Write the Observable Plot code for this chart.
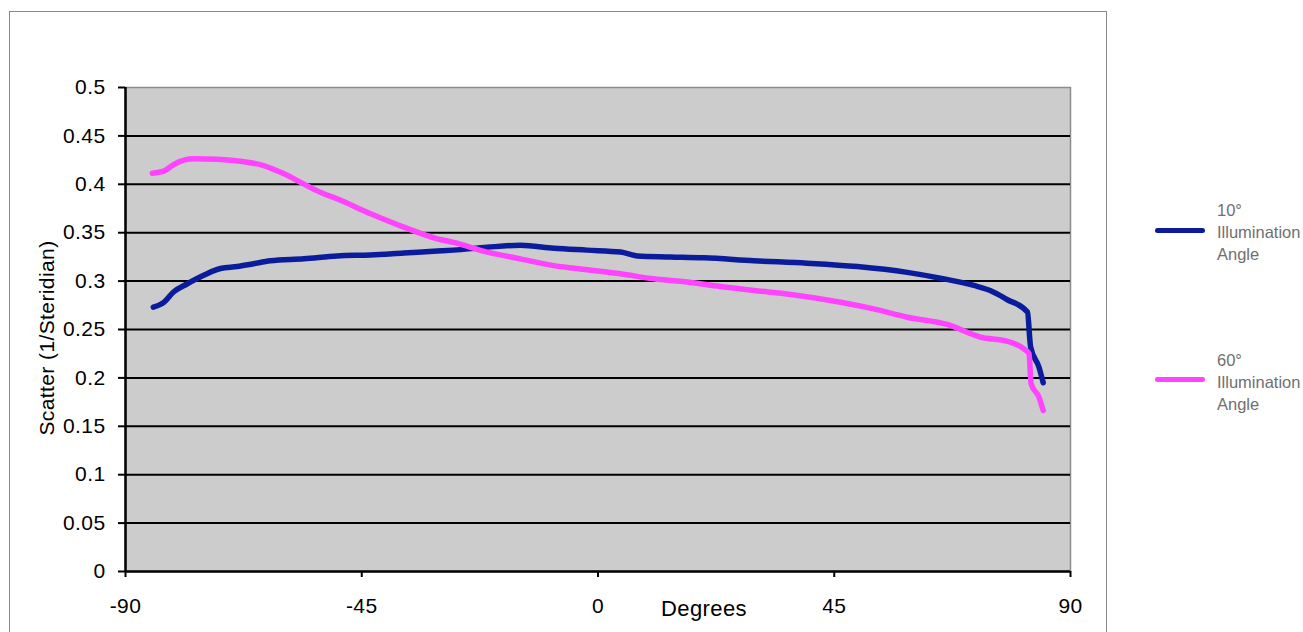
<!DOCTYPE html>
<html>
<head>
<meta charset="utf-8">
<script src="https://cdn.jsdelivr.net/npm/d3@7"></script>
<script src="https://cdn.jsdelivr.net/npm/@observablehq/plot@0.6"></script>
<style>
  html, body { margin: 0; padding: 0; background: #fff; overflow: hidden; }
  #wrap { position: relative; width: 1303px; height: 632px; }
  #border { position: absolute; left: 9px; top: 11px; width: 1098px; height: 700px; border: 1px solid #8a8a8a; box-sizing: border-box; }
  #chart { position: absolute; left: 0; top: 0; }
  .leg { position: absolute; font-family: "Liberation Sans", Arial, sans-serif; font-size: 16.5px; line-height: 22px; color: #707070; }
  .swatch { position: absolute; width: 50px; height: 5px; border-radius: 3px; }
  #ylabel { position: absolute; left: -103.5px; top: 325px; width: 300px; height: 26px; line-height: 26px; text-align: center;
            font-family: "Liberation Sans", Arial, sans-serif; font-size: 21px; letter-spacing: 0.4px; color: black;
            transform: rotate(-90deg); transform-origin: 150px 13px; white-space: nowrap; }
</style>
</head>
<body>
<div id="wrap">
  <div id="border"></div>
  <div id="chart"></div>
  <div id="ylabel"></div>
</div>
<script>
const xTicks = [-90, -45, 0, 45, 90];
const yTicks = [0, 0.05, 0.1, 0.15, 0.2, 0.25, 0.3, 0.35, 0.4, 0.45, 0.5];
const yTickLabels = ["0", "0.05", "0.1", "0.15", "0.2", "0.25", "0.3", "0.35", "0.4", "0.45", "0.5"];
const gridValues = [0.05, 0.1, 0.15, 0.2, 0.25, 0.3, 0.35, 0.4, 0.45];
const xTitle = "Degrees";
const yTitle = "Scatter (1/Steridian)";

const seriesNames = ["10°\nIllumination\nAngle", "60°\nIllumination\nAngle"];
const seriesColors = ["#0a1c9c", "#ff44ff"];

const blueDeg = [-84.7,-82.7,-80.8,-78.3,-75.1,-71.9,-68.7,-65.6,-62.4,-56,-49.7,-43.3,-37,-30.6,-27.5,-21.1,-14.8,-8.4,-2.1,4.3,7.5,13.8,20.2,29.7,39.8,49.4,58.9,65.2,71.6,74.8,77.9,81.8,82.4,84,84.8];
const blueVal = [0.273,0.278,0.289,0.297,0.306,0.313,0.315,0.318,0.321,0.323,0.326,0.327,0.329,0.331,0.332,0.335,0.337,0.334,0.332,0.330,0.326,0.325,0.324,0.321,0.3185,0.315,0.309,0.303,0.2955,0.290,0.281,0.268,0.232,0.211,0.195];

const pinkDeg = [-84.9,-82.7,-80.8,-77,-72.5,-68.1,-63.7,-59.8,-56.3,-52.9,-49.7,-43.3,-37,-30.6,-27.5,-21.1,-14.8,-8.4,-2.1,4.3,10.6,17,23.3,29.7,36.7,46.2,52.5,58.9,66.5,72.9,77.9,81.1,82.1,82.5,84,84.8];
const pinkVal = [0.4115,0.4136,0.4205,0.4263,0.426,0.4239,0.4194,0.4108,0.401,0.3918,0.385,0.3695,0.3557,0.3437,0.340,0.330,0.323,0.316,0.3117,0.3075,0.3024,0.299,0.2944,0.2903,0.2862,0.2782,0.2713,0.2627,0.2552,0.242,0.2379,0.230,0.2249,0.1939,0.180,0.1663];

const blue = blueDeg.map((d, i) => ({x: d, y: blueVal[i]}));
const pink = pinkDeg.map((d, i) => ({x: d, y: pinkVal[i]}));

const fontFamily = '"Liberation Sans", Arial, sans-serif';

const chart = Plot.plot({
  width: 1303,
  height: 632,
  marginLeft: 125,
  marginRight: 233,
  marginTop: 87,
  marginBottom: 61,
  x: {domain: [-90, 90]},
  y: {domain: [0, 0.5]},
  style: {fontFamily, fontSize: "21px", background: "transparent", color: "black", letterSpacing: "0.4px"},
  marks: [
    Plot.frame({fill: "#cccccc", stroke: "#8c8c8c", strokeWidth: 1.5}),
    Plot.ruleY(gridValues, {stroke: "black", strokeWidth: 2}),
    Plot.ruleX([-90], {stroke: "black", strokeWidth: 2.5}),
    Plot.ruleY([0], {stroke: "black", strokeWidth: 2.5}),
    Plot.axisY({ticks: yTicks, tickSize: 7, tickPadding: 13, strokeWidth: 2, tickFormat: (d, i) => yTickLabels[i], label: null}),
    Plot.axisX({ticks: xTicks, tickSize: 6, tickPadding: 21, strokeWidth: 2, tickFormat: d => String(d), label: null}),
    Plot.line(blue, {x: "x", y: "y", curve: "monotone-x", stroke: seriesColors[0], strokeWidth: 5.5, strokeLinecap: "round", strokeLinejoin: "round"}),
    Plot.line(pink, {x: "x", y: "y", curve: "monotone-x", stroke: seriesColors[1], strokeWidth: 5.5, strokeLinecap: "round", strokeLinejoin: "round"}),
    Plot.text([xTitle], {frameAnchor: "bottom", dx: 106, dy: 44, fontSize: 22})
  ]
});
document.getElementById("chart").appendChild(chart);
document.getElementById("ylabel").textContent = yTitle;

// Legend
const wrap = document.getElementById("wrap");
const legendPos = [{line: 230, text: 199}, {line: 379, text: 349}];
seriesNames.forEach((name, i) => {
  const sw = document.createElement("div");
  sw.className = "swatch";
  sw.style.left = "1155px";
  sw.style.top = (legendPos[i].line - 2.5) + "px";
  sw.style.background = seriesColors[i];
  wrap.appendChild(sw);
  const t = document.createElement("div");
  t.className = "leg";
  t.style.left = "1217px";
  t.style.top = legendPos[i].text + "px";
  t.innerHTML = name.split("\n").join("<br>");
  wrap.appendChild(t);
});
</script>
</body>
</html>
